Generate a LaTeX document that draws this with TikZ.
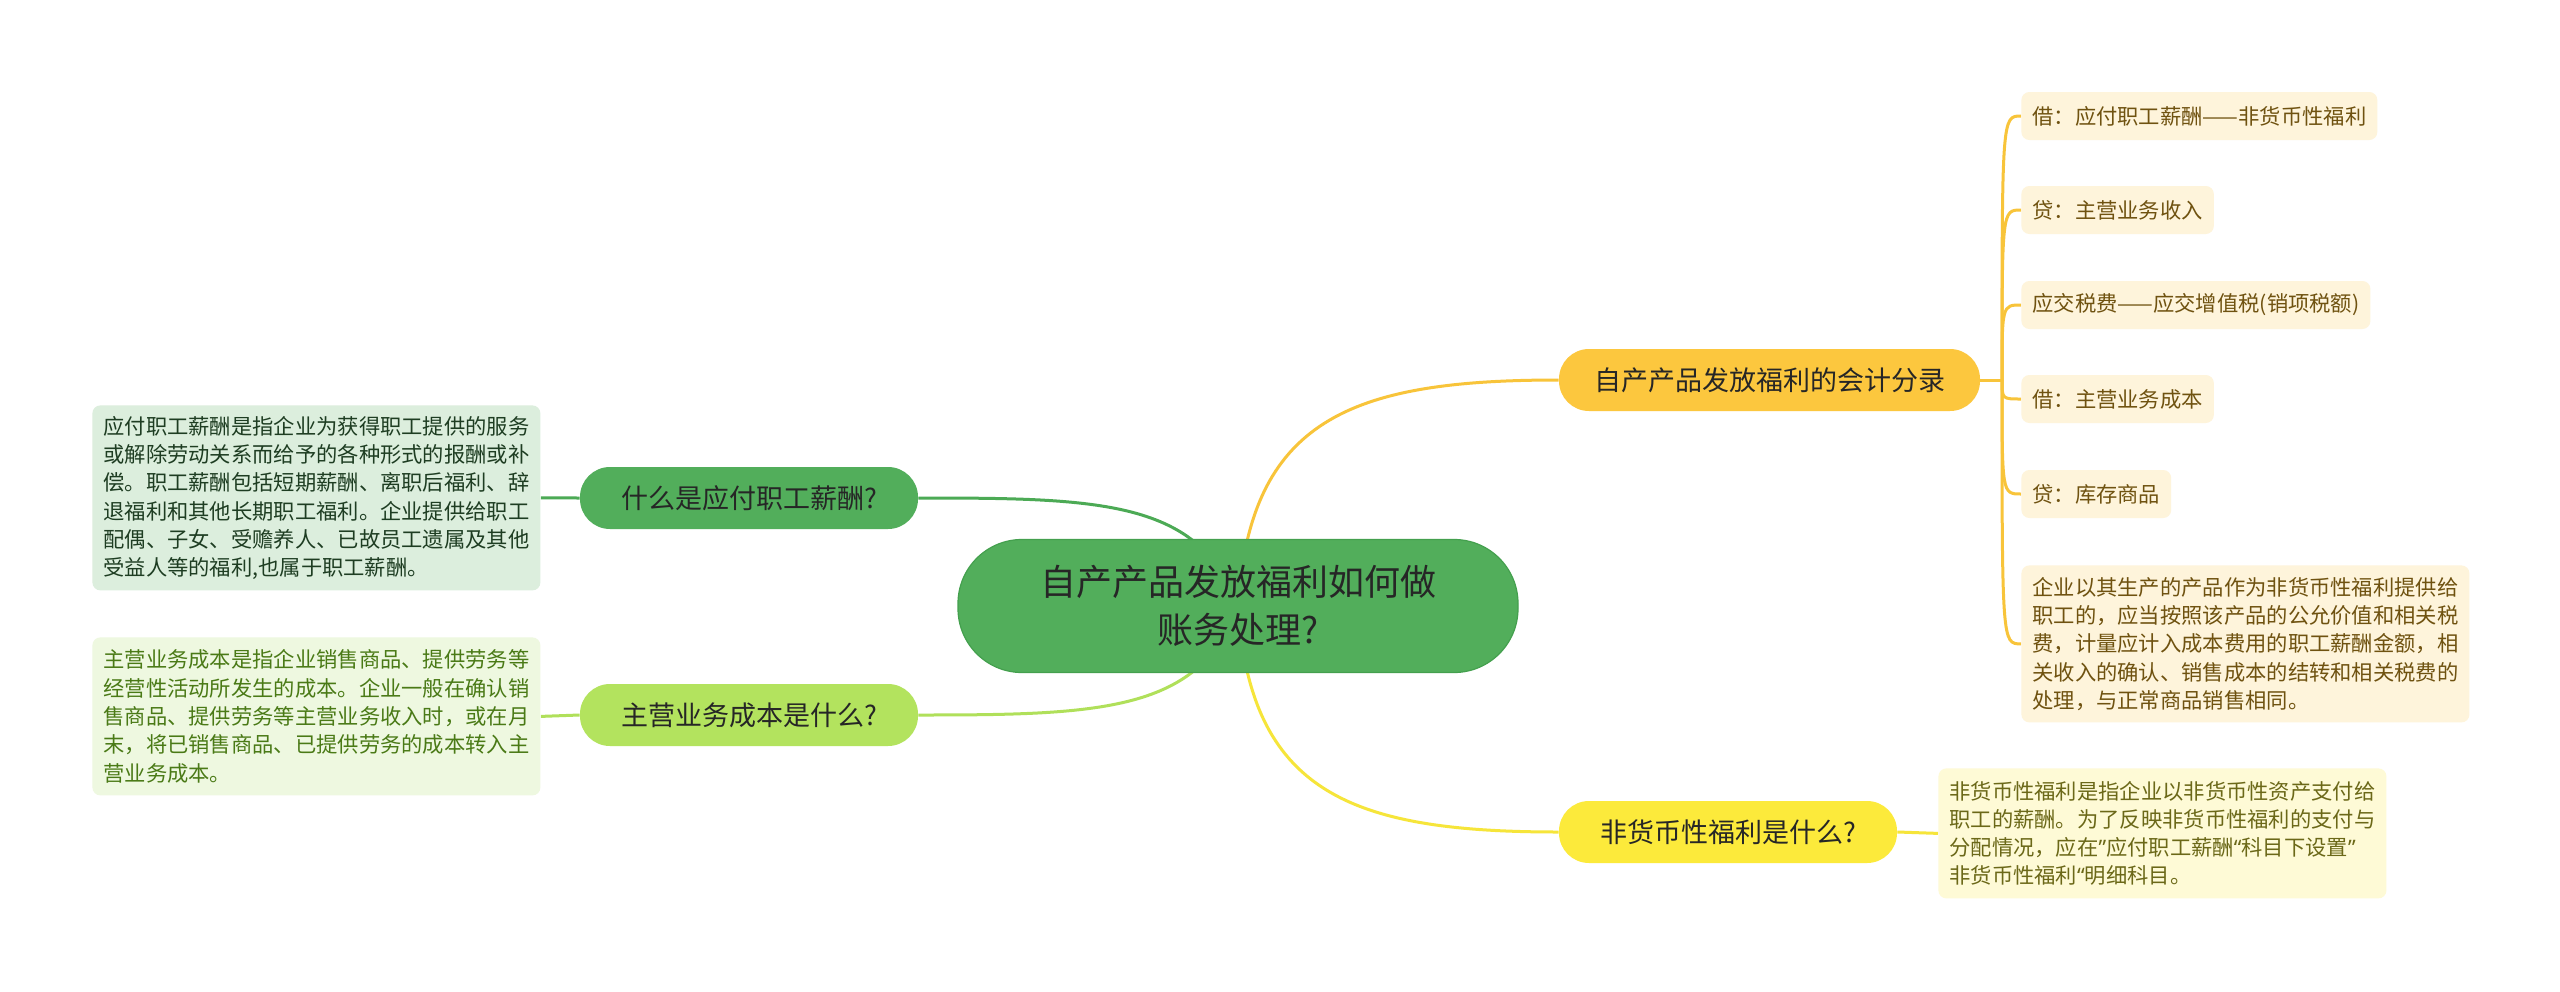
\documentclass[tikz,border=0pt]{standalone}
\usepackage{fontspec}
\newfontfamily\cjk{Noto Sans CJK SC}
\newfontfamily\quotefont{Noto Sans}
\usetikzlibrary{backgrounds}

\definecolor{rootgreen}{HTML}{52AE5B}
\definecolor{rootedge}{HTML}{44A04E}
\definecolor{darktext}{HTML}{262626}
\definecolor{wageline}{HTML}{4CAA55}
\definecolor{costfill}{HTML}{B3E35E}
\definecolor{costline}{HTML}{B0E05A}
\definecolor{wagenotebg}{HTML}{DCEEDD}
\definecolor{wagenotetext}{HTML}{1E3D22}
\definecolor{costnotebg}{HTML}{EEF8E0}
\definecolor{costnotetext}{HTML}{4A7A16}
\definecolor{entryfill}{HTML}{FCC73E}
\definecolor{entryline}{HTML}{F8C43A}
\definecolor{leafbg}{HTML}{FEF4DB}
\definecolor{leaftext}{HTML}{6F5210}
\definecolor{benefitfill}{HTML}{FCEA3B}
\definecolor{benefitline}{HTML}{F6E53A}
\definecolor{benefitnotebg}{HTML}{FEFAD6}
\definecolor{benefitnotetext}{HTML}{6B6818}

\newcommand{\narrowq}[1]{{\quotefont #1}}

\begin{document}
\begin{tikzpicture}[x=0.5pt,y=-0.5pt,
	topic/.style={rectangle, rounded corners=15pt, minimum height=31pt, inner sep=0pt,
		font=\cjk\fontsize{13.5}{16}\selectfont, text=darktext},
	leaf/.style={rectangle, rounded corners=4pt, fill=leafbg, text=leaftext, anchor=west,
		inner xsep=5.5pt, inner ysep=0pt, minimum height=24pt,
		font=\cjk\fontsize{10.65}{14.15}\selectfont},
	note/.style={rectangle, rounded corners=4pt, anchor=north west, align=left,
		inner xsep=5.5pt, inner ysep=0pt, minimum width=224pt,
		font=\cjk\fontsize{10.65}{14.15}\selectfont},
	branch/.style={line width=1.5pt}]
		
		\useasboundingbox (0,0) rectangle (2560,991);
		
		% Central topic
		\node[rectangle, rounded corners=32pt, fill=rootgreen, draw=rootedge, line width=0.6pt,
			minimum width=280pt, minimum height=66.5pt, align=center, text=darktext,
			font=\cjk\fontsize{18}{24}\selectfont] (root) at (1238,606)
			{自产产品发放福利如何做\\账务处理?};
		
		% Left topics and their notes
		\node[topic, fill=rootgreen, minimum width=169pt] (wage) at (749,498) {什么是应付职工薪酬?};
		\node[topic, fill=costfill, minimum width=169pt] (cost) at (749,715) {主营业务成本是什么?};
		
		\node[note, fill=wagenotebg, text=wagenotetext, minimum height=92.5pt] (wagenote) at (92,405)
			{应付职工薪酬是指企业为获得职工提供的服务\\
			或解除劳动关系而给予的各种形式的报酬或补\\
			偿。职工薪酬包括短期薪酬、离职后福利、辞\\
			退福利和其他长期职工福利。企业提供给职工\\
			配偶、子女、受赡养人、已故员工遗属及其他\\
			受益人等的福利,也属于职工薪酬。};
		\node[note, fill=costnotebg, text=costnotetext, minimum height=79pt] (costnote) at (92,637)
			{主营业务成本是指企业销售商品、提供劳务等\\
			经营性活动所发生的成本。企业一般在确认销\\
			售商品、提供劳务等主营业务收入时，或在月\\
			末，将已销售商品、已提供劳务的成本转入主\\
			营业务成本。};
		
		% Right topics
		\node[topic, fill=entryfill, minimum width=210.5pt] (entry) at (1769.5,380) {自产产品发放福利的会计分录};
		\node[topic, fill=benefitfill, minimum width=169pt] (benefit) at (1728,832) {非货币性福利是什么?};
		
		\node[note, fill=benefitnotebg, text=benefitnotetext, minimum height=65pt] (benefitnote) at (1938,768)
			{非货币性福利是指企业以非货币性资产支付给\\
			职工的薪酬。为了反映非货币性福利的支付与\\
			分配情况，应在\narrowq{”}应付职工薪酬\narrowq{“}科目下设置\narrowq{”}\\
			非货币性福利\narrowq{“}明细科目。};
		
		% Journal entries
		\node[leaf] (e1) at (2021,116) {借：应付职工薪酬——非货币性福利};
		\node[leaf] (e2) at (2021,210) {贷：主营业务收入};
		\node[leaf] (e3) at (2021,305) {应交税费——应交增值税(销项税额)};
		\node[leaf] (e4) at (2021,399) {借：主营业务成本};
		\node[leaf] (e5) at (2021,494) {贷：库存商品};
		\node[note, fill=leafbg, text=leaftext, minimum width=223.5pt, minimum height=78.5pt] (e6) at (2021,565)
			{企业以其生产的产品作为非货币性福利提供给\\
			职工的，应当按照该产品的公允价值和相关税\\
			费，计量应计入成本费用的职工薪酬金额，相\\
			关收入的确认、销售成本的结转和相关税费的\\
			处理，与正常商品销售相同。};
		\coordinate (fork) at (2002,380);
		
		% Connectors
		\begin{scope}[on background layer]
			\fill[white] (0,0) rectangle (2560,991);
			\draw[branch, wageline] (wage.east) .. controls +(182,0) and +(-38,-106) .. (root.center);
			\draw[branch, costline] (cost.east) .. controls +(182,0) and +(-38,106) .. (root.center);
			\draw[branch, entryline] (root.center) .. controls +(12,-186) and +(-209,0) .. (entry.west);
			\draw[branch, benefitline] (root.center) .. controls +(12,186) and +(-209,0) .. (benefit.west);
			\draw[branch, wageline] (wage.west) -- (wagenote.east);
			\draw[branch, costline] (cost.west) -- (costnote.east);
			\draw[branch, benefitline] (benefit.east) -- (benefitnote.west);
			\draw[branch, entryline] (entry.east) -- (fork);
			\foreach \i in {1,...,6} {
				\draw[branch, entryline] (fork) .. controls (fork |- e\i.west) .. (e\i.west);
			}
		\end{scope}
		
	\end{tikzpicture}
\end{document}
